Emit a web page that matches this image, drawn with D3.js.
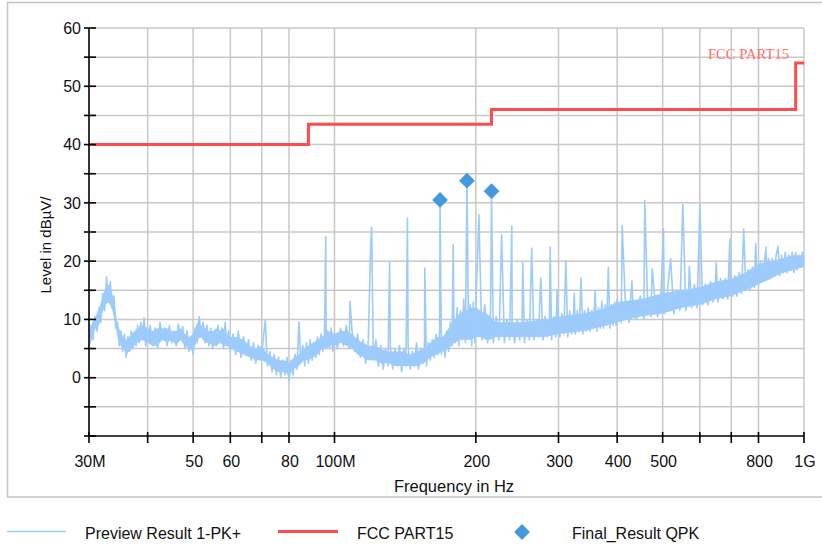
<!DOCTYPE html>
<html><head><meta charset="utf-8">
<script src="https://cdn.jsdelivr.net/npm/d3@7"></script>
<style>
body{margin:0;background:#fff}
svg{display:block}
text{font-family:"Liberation Sans",Arial,sans-serif;fill:#111}
</style>
</head><body>
<svg id="c" width="822" height="546"></svg>
<script>
// ---- data ----
const xTickValues = [30,40,50,60,70,80,100,200,300,400,500,600,700,800,1000];
const xTickLabels = ["30M","","50","60","","80","100M","200","300","400","500","","","800","1G"];
const yTickValues = [-10,-5,0,5,10,15,20,25,30,35,40,45,50,55,60];
const yTickLabels = ["","","0","","10","","20","","30","","40","","50","","60"];

const limitFreq  = [30, 88, 88, 216, 216, 960, 960, 1000];
const limitLevel = [40, 40, 43.5, 43.5, 46, 46, 54, 54];

const qpkFreq  = [167.8, 191.5, 216];
const qpkLevel = [30.5, 33.8, 32.0];

// Preview Result 1-PK+ : [MHz, dBµV]
const previewTrace = [
[30.0,5.0],[30.3,9.0],[30.6,6.5],[30.9,10.5],[31.2,8.0],[31.5,12.0],[31.8,9.5],[32.1,14.5],[32.4,11.5],[32.7,17.3],
[33.0,13.0],[33.3,16.5],[33.6,12.0],[33.9,14.0],[34.2,8.5],[34.5,9.5],[34.8,5.5],[35.1,8.0],[35.4,4.5],[35.7,7.5],
[36.0,3.5],[36.3,7.0],[36.6,4.5],[36.9,8.0],[37.2,5.0],[37.5,7.5],[37.8,5.5],[38.1,9.0],[38.4,6.0],[38.7,9.5],
[39.0,6.5],[39.3,10.3],[39.6,5.5],[39.9,8.5],
[40.0,6.0],[40.5,9.0],[41.0,5.5],[41.5,8.5],[42.0,5.0],[42.5,9.5],[43.0,6.5],[43.5,8.5],[44.0,5.5],[44.5,9.0],
[45.0,6.0],[45.5,8.0],[46.0,5.5],[46.5,9.2],[47.0,6.5],[47.5,8.8],[48.0,5.0],[48.5,8.0],[49.0,4.5],[49.5,7.0],
[50.0,4.0],[50.5,8.5],[51.0,6.0],[51.5,10.5],[52.0,7.0],[52.5,9.5],[53.0,6.0],[53.5,9.0],[54.0,5.5],[54.5,8.5],
[55.0,5.0],[55.5,8.0],[56.0,5.5],[56.5,9.0],[57.0,6.0],[57.5,8.5],[58.0,5.0],[58.5,9.5],[59.0,5.5],[59.5,8.0],
[60.0,4.5],[60.8,7.5],[61.6,4.0],[62.4,8.0],[63.2,3.5],[64.0,7.0],[64.8,4.0],[65.6,6.5],[66.4,3.0],[67.2,6.0],
[68.0,2.5],[68.8,5.5],[69.6,3.0],[70.4,6.0],[71.2,9.8],[72.0,2.0],[72.8,4.5],[73.6,1.0],[74.4,4.0],[75.2,0.5],
[76.0,3.5],[76.8,0.0],[77.6,3.0],[78.4,0.5],[79.2,3.5],[80.0,-0.5],[80.8,3.0],[81.6,0.5],[82.4,4.0],[83.2,1.5],
[84.0,9.5],[84.8,2.5],[85.6,5.5],[86.4,2.0],[87.2,6.0],[88.0,2.5],[88.8,6.5],[89.6,3.0],[90.4,6.0],[91.2,3.5],
[92.0,7.0],[92.8,4.0],[93.6,7.5],[94.4,4.5],[95.2,7.0],[95.8,24.2],[96.0,5.0],[96.8,8.0],[97.6,5.0],[98.4,8.5],[99.2,4.5],
[100.0,7.5],[101.5,5.0],[103.0,8.5],[104.5,5.5],[106.0,9.0],[107.5,5.0],[107.9,13.1],[109.0,8.0],[110.5,4.5],[112.0,7.5],
[113.5,3.5],[115.0,6.5],[116.5,2.5],[118.0,6.0],[119.5,23.5],[120.0,25.8],[121.0,3.0],[122.5,6.5],[124.0,2.0],[125.5,5.5],
[127.0,1.5],[128.5,5.0],[130.0,2.0],[131.0,19.8],[131.5,5.5],[133.0,1.5],[134.5,5.0],[136.0,2.0],[137.5,5.5],[139.0,1.0],
[140.5,5.0],[142.0,2.0],[143.0,27.4],[143.5,5.5],[145.0,1.5],[146.5,4.5],[148.0,2.0],[149.5,6.0],[151.0,1.5],[152.5,5.0],
[154.0,2.5],[155.5,5.5],[155.7,18.8],[157.0,2.0],[158.5,6.0],[160.0,3.0],[161.5,6.5],[163.0,3.5],[164.5,7.5],[166.0,4.0],
[167.5,8.0],[167.8,30.0],[169.0,4.0],[170.5,7.0],[172.0,3.5],[173.5,8.0],[175.0,4.5],[176.5,9.5],[178.0,5.5],[179.0,22.9],
[179.5,11.0],[181.0,6.0],[182.5,12.0],[184.0,5.5],[185.5,11.5],[187.0,6.5],[188.5,13.5],[190.0,6.0],[191.5,33.5],[193.0,7.5],
[194.5,12.5],[196.0,5.5],[197.5,13.0],[199.0,6.0],
[200.0,12.0],[203.0,28.0],[206.0,6.5],[209.0,12.5],[212.0,6.0],[215.0,11.5],[216.0,31.5],[218.0,6.0],[221.0,10.5],[224.0,6.5],
[227.0,24.5],[230.0,6.0],[233.0,10.0],[236.0,6.5],[238.6,26.0],[239.0,9.5],[242.0,6.0],[245.0,10.0],[248.0,6.5],[251.0,9.5],
[251.7,19.7],[254.0,6.0],[257.0,10.0],[260.0,6.5],[263.0,22.2],[266.0,6.5],[269.0,10.0],[272.0,7.0],[275.0,17.1],[278.0,6.5],
[281.0,10.5],[284.0,7.0],[287.0,10.0],[288.0,22.4],[290.0,6.5],[293.0,10.5],[296.0,7.0],[298.0,15.1],[299.0,11.0],[302.0,7.0],
[305.0,11.0],[308.0,7.5],[311.0,20.1],[314.0,7.0],[317.0,11.5],[320.0,7.5],[323.0,11.0],[324.0,14.5],[326.0,7.5],[329.0,11.5],
[332.0,8.0],[335.0,17.1],[338.0,7.5],[341.0,11.5],[344.0,8.0],[347.0,12.0],[350.0,8.0],[353.0,11.5],[356.0,8.5],[359.0,14.8],
[362.0,8.0],[365.0,12.0],[368.0,8.5],[371.0,13.1],[374.0,8.5],[377.0,12.5],[380.0,9.0],[383.0,18.9],[386.0,8.5],[389.0,12.5],
[392.0,9.0],[395.0,13.0],[398.0,9.0],
[400,13.5],[408,9.5],[410,26.1],[416,13.5],[424,9.5],[430,16.6],[432,13.0],[440,10.0],[448,14.0],[456,10.0],
[458,30.4],[464,14.0],[472,10.5],[475,18.7],[480,14.5],[488,10.5],[496,14.5],[502,25.5],[504,11.0],[512,15.0],
[520,20.4],[528,11.0],[536,15.0],[544,11.5],[552,29.7],[560,11.5],[568,15.5],[570,19.1],[576,12.0],[584,16.0],
[592,12.0],[600,29.7],[608,12.5],[616,16.0],[624,12.5],[632,16.5],[640,13.0],[648,16.5],[650,19.7],[656,13.0],
[664,17.0],[672,13.5],[680,17.0],[688,13.5],[695,23.8],[696,17.5],[704,14.0],[712,17.5],[720,14.0],[728,18.0],
[736,14.5],[744,25.5],[752,15.0],[760,18.5],[768,15.0],[776,19.0],[784,15.5],[789,23.0],[792,19.5],[800,16.0],
[808,20.0],[816,16.5],[824,20.0],[830,22.4],[832,17.0],[840,20.5],[848,17.0],[856,20.5],[864,17.5],[872,21.0],
[880,22.5],[888,17.5],[896,21.0],[904,18.0],[912,21.5],[920,18.0],[928,21.0],[936,18.5],[944,21.5],[952,18.0],
[960,21.5],[968,18.5],[976,21.0],[984,19.0],[992,21.5],[1000,20.0]
];

// dense core of the noise band
const bandFreq = [30,30.5,31,31.5,32,32.5,33,33.5,34,34.5,35,35.5,36,36.5,37,38,39,40,41,42,43,44,45,46,47,48,49,50,51,52,53,54,55,56,57,58,59,60,62,64,66,68,70,72,74,76,78,80,82,84,86,88,90,92,94,96,98,100,103,106,109,112,115,118,122,125,130,135,140,145,150,155,160,165,170,175,180,185,190,195,200,205,210,215,220,230,250,280,300,340,380,400,450,500,550,600,650,700,750,800,850,900,950,1000];
const bandLow  = [5,7,8.5,9,11,12.5,13,12,10,7,5.5,5,4,4.5,5,6,6.5,6,5.5,5.5,6.5,6,6.5,5.5,6.5,5.5,5,4.5,6.5,7,6,6,5.5,5.5,6,5.5,5.5,5,4.5,4,3.5,3,3,2.5,1.5,1,1,0.5,1.5,2,3,3,3.5,4,5,5,5.5,5.5,6,5.5,5,4,3.5,3,3,2.5,2.5,2,2,2,2,2.5,3.5,4,4.5,5,6,6.5,6.5,6.5,7,7,6.5,6.5,7,7,7,7,7.5,8,9,9.5,10.5,11,12,12.5,13.5,14,15,16,17,18,18.5,19];
const bandHigh = [8,9.5,10.5,12,13.5,15.5,16,15,13,9,8,7,6.5,7,7.5,8.5,9,8.5,8,8.5,8.5,8.5,8,8,8.5,7.5,7,7.5,9.5,9,8.5,8,8,8.5,8,8.5,7.5,7,7,6.5,5.5,5,5.5,4,3.5,3,3,2.5,3.5,4,5,5.5,6,6.5,7,7.5,8,7.5,8,8,7.5,6.5,6,5.5,5.5,5,4.5,4.5,4.5,4,4.5,5,6,7,7,8.5,10,11,11.5,12,12,11.5,11,10.5,9.5,9.5,9.5,10,10.5,11,12,13,13.5,14.5,15,15.5,16.5,17,18,19.5,20,20.5,21,21];

const legendNames = ["Preview Result 1-PK+", "FCC PART15", "Final_Result QPK"];
const limitName = "FCC PART15";

// ---- layout ----
const svg = d3.select("#c");
const L = 89, R = 804, T = 28, B = 436;
const x = d3.scaleLog().domain([30, 1000]).range([L, R]);
const y = d3.scaleLinear().domain([-10, 60]).range([B, T]);

const traceColor = "#9dcbfb", limitColor = "#ff4b4b", qpkColor = "#4499dd", gridColor = "#c8c8c8";

// frame
svg.append("rect").attr("x", 7.5).attr("y", 2.5).attr("width", 830).attr("height", 494.5)
  .attr("fill", "none").attr("stroke", "#c4c4c4").attr("stroke-width", 1.5);

// grid
const g = svg.append("g");
g.selectAll(".hg").data(yTickValues.filter(v => v > -10)).join("line")
  .attr("x1", L).attr("x2", R).attr("y1", d => y(d)).attr("y2", d => y(d))
  .attr("stroke", gridColor).attr("stroke-width", 1.5);
g.selectAll(".vg").data(xTickValues.filter(v => v > 30)).join("line")
  .attr("x1", d => x(d)).attr("x2", d => x(d)).attr("y1", T).attr("y2", B)
  .attr("stroke", gridColor).attr("stroke-width", 1.5);

// trace band core
const bandData = bandFreq.map((f, i) => [f, bandLow[i], bandHigh[i]]);
svg.append("path").datum(bandData)
  .attr("d", d3.area().x(d => x(d[0])).y0(d => y(d[1])).y1(d => y(d[2])))
  .attr("fill", traceColor).attr("stroke", "none");

// trace
const traceSorted = previewTrace.slice().sort((a, b) => a[0] - b[0]);
svg.append("path").datum(traceSorted)
  .attr("d", d3.line().x(d => x(d[0])).y(d => y(d[1])))
  .attr("fill", "none").attr("stroke", traceColor).attr("stroke-width", 1.6).attr("stroke-linejoin", "round");

// limit
const limitData = limitFreq.map((f, i) => [f, limitLevel[i]]);
svg.append("path").datum(limitData)
  .attr("d", d3.line().x(d => x(d[0])).y(d => y(d[1])))
  .attr("fill", "none").attr("stroke", limitColor).attr("stroke-width", 3);

svg.append("text").attr("x", 708).attr("y", 59)
  .attr("textLength", 81).attr("lengthAdjust", "spacingAndGlyphs")
  .style("font-family", "'Liberation Serif','Times New Roman',serif").style("font-size", "15px")
  .style("fill", "#ff7070").text(limitName);

// QPK diamonds
const diamond = d3.symbol(d3.symbolSquare, 125);
svg.selectAll(".qpk").data(qpkFreq.map((f, i) => [f, qpkLevel[i]])).join("path")
  .attr("d", diamond)
  .attr("transform", d => `translate(${x(d[0])},${y(d[1])}) rotate(45)`)
  .attr("fill", qpkColor);

// axes
const yAxis = svg.append("g");
yAxis.append("line").attr("x1", L).attr("x2", L).attr("y1", T).attr("y2", B)
  .attr("stroke", "#000").attr("stroke-width", 1.6);
yAxis.selectAll(".yt").data(yTickValues).join("line")
  .attr("x1", L - 5).attr("x2", L + 7).attr("y1", d => y(d)).attr("y2", d => y(d))
  .attr("stroke", "#000").attr("stroke-width", 1.6);
yAxis.selectAll(".yl").data(yTickValues).join("text")
  .attr("x", 81).attr("y", d => y(d)).attr("dy", "0.36em")
  .attr("text-anchor", "end").style("font-size", "16px")
  .text((d, i) => yTickLabels[i]);

const xAxis = svg.append("g");
xAxis.append("line").attr("x1", L).attr("x2", R).attr("y1", B).attr("y2", B)
  .attr("stroke", "#000").attr("stroke-width", 1.6);
xAxis.selectAll(".xt").data(xTickValues).join("line")
  .attr("x1", d => x(d)).attr("x2", d => x(d)).attr("y1", B - 4).attr("y2", B + 7)
  .attr("stroke", "#000").attr("stroke-width", 1.6);
xAxis.selectAll(".xl").data(xTickValues).join("text")
  .attr("x", d => x(d) + 1).attr("y", 467)
  .attr("text-anchor", "middle").style("font-size", "16px")
  .text((d, i) => xTickLabels[i]);

svg.append("text").attr("x", 454).attr("y", 492).attr("text-anchor", "middle")
  .style("font-size", "16.5px").text("Frequency in Hz");
svg.append("text").attr("transform", "translate(51,245) rotate(-90)").attr("text-anchor", "middle")
  .style("font-size", "15px").text("Level in dBµV/");

// legend
const lg = svg.append("g");
lg.append("line").attr("x1", 7).attr("x2", 66).attr("y1", 531.5).attr("y2", 531.5)
  .attr("stroke", traceColor).attr("stroke-width", 1.5);
lg.append("text").attr("x", 85).attr("y", 539).style("font-size", "16px").text(legendNames[0]);
lg.append("line").attr("x1", 278).attr("x2", 338).attr("y1", 531.5).attr("y2", 531.5)
  .attr("stroke", limitColor).attr("stroke-width", 3);
lg.append("text").attr("x", 357).attr("y", 539).style("font-size", "16px").text(legendNames[1]);
lg.append("path").attr("d", diamond).attr("transform", "translate(522,532) rotate(45)").attr("fill", qpkColor);
lg.append("text").attr("x", 572).attr("y", 539).style("font-size", "16px").text(legendNames[2]);
</script>
</body></html>
